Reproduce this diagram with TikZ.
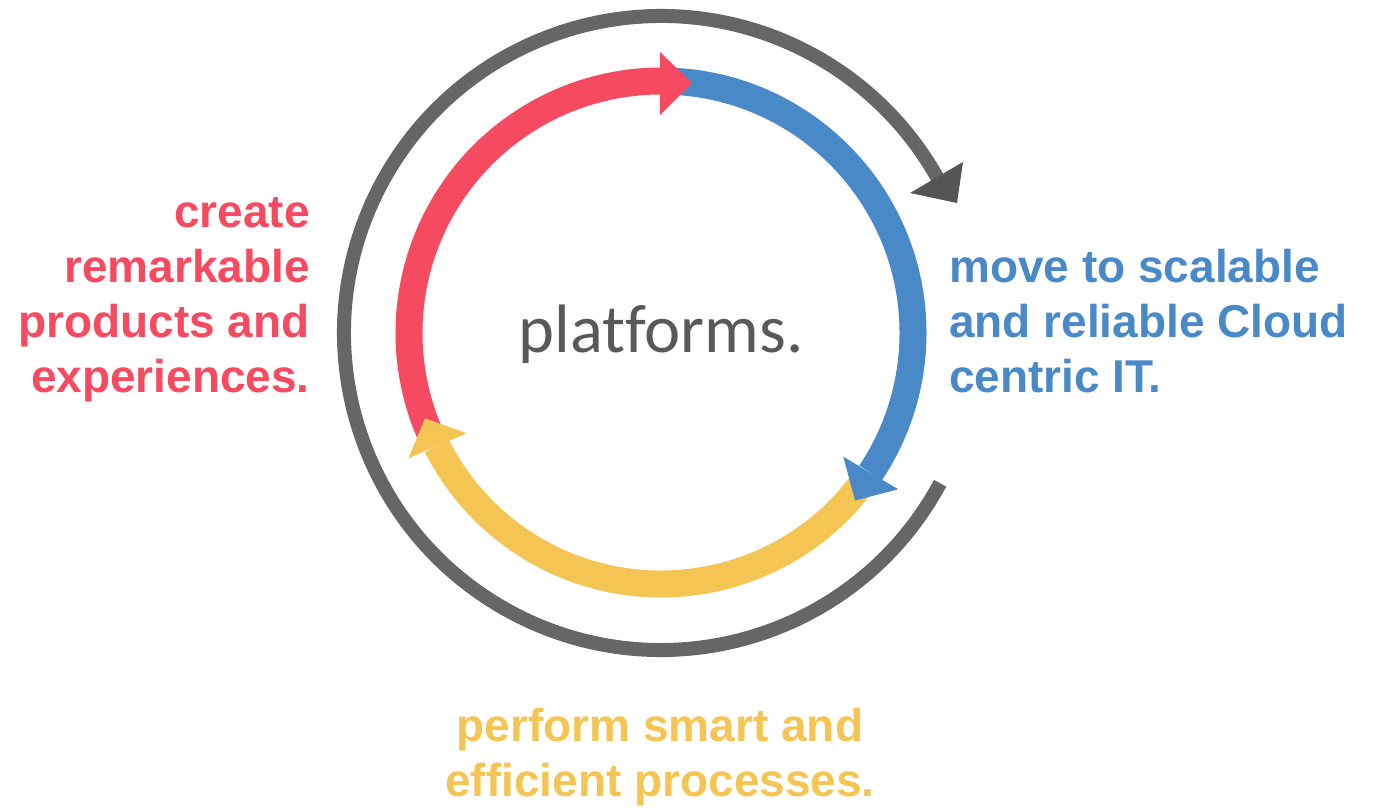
\documentclass[tikz,border=0pt]{standalone}
\usepackage{fontspec}
\setmainfont{Liberation Sans}
\newfontfamily\platfont[Ligatures=NoCommon]{Carlito}
\definecolor{cred}{HTML}{F54A60}
\definecolor{cblue}{HTML}{4A89C8}
\definecolor{cyel}{HTML}{F4C552}
\definecolor{cring}{HTML}{666666}
\definecolor{chead}{HTML}{555555}
\definecolor{ctext}{HTML}{595959}
\begin{document}
\begin{tikzpicture}[x=1pt,y=1pt,
  band/.style={line width=27pt, line cap=butt},
  ringline/.style={line width=14pt, line cap=butt, draw=cring},
  lbl/.style={inner sep=0pt, font=\bfseries\fontsize{46}{55}\selectfont}]
\useasboundingbox (0,0) rectangle (1376,807);
\coordinate (C) at (661,474);
% gray ring
\draw[ringline, shift={(C)}] (-28.3:317) arc[start angle=-28.3, end angle=-331, radius=317];
\fill[chead, shift={(C)}] (296,130) -- (249,140) -- (302,171) -- cycle;
% colored bands
\draw[band, cred, shift={(C)}] (205:252) arc[start angle=205, end angle=90, radius=252];
\draw[band, cblue, shift={(C)}] (88:252) arc[start angle=88, end angle=-33.7, radius=252];
\draw[band, cyel, shift={(C)}] (-36:251) arc[start angle=-36, end angle=-153.2, radius=251];
% heads
\fill[cred, shift={(C)}] (31,250) -- (-1,281) -- (-1,218) -- cycle;
\fill[cblue, shift={(C)}] (194,-167.5) -- (182.3,-123.7) -- (237.3,-156.3) -- cycle;
\fill[cyel, shift={(C)}] (-236,-85.3) -- (-252.7,-125.3) -- (-194.3,-100.3) -- cycle;
% texts
\node[inner sep=0pt, text=ctext, font=\platfont\fontsize{68.5}{74}\selectfont, anchor=base] (plat) at (661,454) {platforms.};
\node[lbl, text=cred, align=right, anchor=base east] (create) at (310,414) {create\\remarkable\\products and\\experiences.};
\node[lbl, text=cblue, align=left, anchor=base west] (move) at (949,414) {move to scalable\\and reliable Cloud\\centric IT.};
\node[lbl, text=cyel, align=center, anchor=base] (perform) at (660,11) {perform smart and\\efficient processes.};
\end{tikzpicture}
\end{document}
